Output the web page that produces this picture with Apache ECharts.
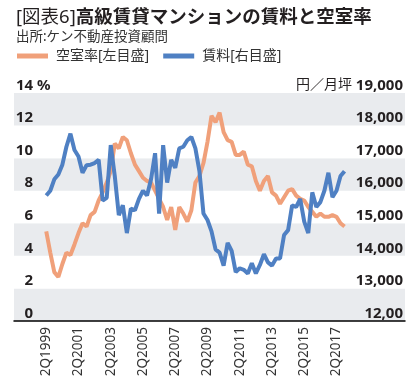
<!DOCTYPE html>
<html><head><meta charset="utf-8">
<script src="https://cdn.jsdelivr.net/npm/echarts@6/dist/echarts.min.js"></script>
<style>html,body{margin:0;padding:0;background:#fff}#c{width:417px;height:383px}</style>
</head><body><div id="c"></div>
<script>
// quarter index 0 = 2Q1999
const xTickLabels = ['2Q1999','2Q2001','2Q2003','2Q2005','2Q2007','2Q2009','2Q2011','2Q2013','2Q2015','2Q2017'];
const leftTickLabels = ['0','2','4','6','8','10','12','14'];
const rightTickLabels = ['12,00','13,000','14,000','15,000','16,000','17,000','18,000','19,000'];
const vacancy = [5.5,4.2,3.0,2.7,3.5,4.2,4.05,4.7,5.4,6.0,5.8,6.5,6.7,7.4,7.9,8.5,9.2,10.9,10.6,11.3,11.1,10.3,9.6,9.2,8.8,8.6,8.5,8.0,7.5,7.0,6.2,7.0,5.6,7.0,6.6,6.1,6.8,8.5,8.9,9.7,11.0,12.6,12.2,12.8,11.6,11.1,11.0,10.2,10.2,10.4,9.6,9.5,8.6,8.0,8.6,8.9,7.9,7.7,7.2,7.6,8.0,8.1,7.7,7.5,7.4,7.0,6.7,6.4,6.6,6.4,6.4,6.5,6.4,6.0,5.8];
const rent = [15850,16000,16350,16500,16800,17350,17750,17250,17050,16550,16780,16800,16850,16950,15700,15780,17400,16450,15250,15550,14700,15450,15400,15750,16000,15850,16350,17150,15300,17400,16250,16950,16700,17300,17350,17550,17650,17300,16600,15300,15100,14750,14200,14100,13700,14400,14150,13500,13620,13570,13460,13770,13460,13720,14050,13800,13700,13920,13920,14640,14790,15550,15500,15750,15050,14700,15950,15500,15650,16000,16550,15800,16000,16450,16600];
const seriesNames = ['空室率[左目盛]','賃料[右目盛]'];
const titleMain = '高級賃貸マンションの賃料と空室率';
const titleTag = '[図表6]';
const sourceText = '出所:ケン不動産投資顧問';
const rightUnit = '円／月坪';

const ORANGE = '#F0A07A', BLUE = '#4F80C3';
const FONT = '"Noto Sans", "Noto Sans CJK JP", sans-serif';
const chart = echarts.init(document.getElementById('c'), null, {renderer:'canvas'});
chart.setOption({
  animation: false,
  backgroundColor: '#fff',
  textStyle: {fontFamily: FONT},
  title: {
    left: 11, top: 3, itemGap: 4,
    text: '{a|' + titleTag + '}{b|' + titleMain + '}',
    textStyle: {rich: {
      a: {fontSize: 18.5, fontWeight: 'normal', color: '#231f20', fontFamily: FONT},
      b: {fontSize: 18.5, fontWeight: 'bold', color: '#231f20', fontFamily: FONT}
    }},
    subtext: sourceText,
    subtextStyle: {fontSize: 13.5, color: '#333', fontFamily: FONT}
  },
  legend: {
    left: 12, top: 44, itemWidth: 31, itemHeight: 5, itemGap: 14, icon: 'rect',
    textStyle: {fontSize: 14, color: '#333', fontFamily: FONT, padding: [0,0,0,3]},
    data: seriesNames
  },
  grid: {left: 14, right: 12, top: 93, bottom: 62},
  xAxis: {
    type: 'value', min: -8, max: 89, interval: 8,
    axisLine: {show: true, onZero: false, lineStyle: {color: '#000', width: 1.5}},
    axisTick: {show: false}, splitLine: {show: false},
    axisLabel: {
      rotate: 90, margin: 6, fontSize: 13.5, color: '#333', fontFamily: FONT,
      showMaxLabel: true, showMinLabel: true,
      formatter: v => (v >= 0 && v % 8 === 0 && xTickLabels[v/8]) ? xTickLabels[v/8] : ''
    }
  },
  yAxis: [{
    type: 'value', min: 0, max: 14, interval: 2, position: 'left',
    axisLine: {show: false}, axisTick: {show: false}, splitLine: {show: false},
    splitArea: {show: true, areaStyle: {color: ['#E9EBEE', '#FFFFFF']}},
    axisLabel: {
      inside: true, margin: 2, align: 'left', verticalAlign: 'bottom', color: '#231f20',
      fontSize: 15, fontWeight: 'bold', fontFamily: FONT,
      formatter: (v, idx) => {
        const lab = leftTickLabels[Math.round(v/2)];
        return '{n|' + lab + '}' + (v === 14 ? '{p| %}' : '');
      },
      rich: {
        n: {width: 17, align: 'right', fontSize: 15, fontWeight: 'bold', fontFamily: FONT, color: '#231f20'},
        p: {fontSize: 15, fontWeight: 'bold', fontFamily: FONT, color: '#231f20'}
      }
    }
  }, {
    type: 'value', min: 12000, max: 19000, interval: 1000, position: 'right',
    axisLine: {show: false}, axisTick: {show: false}, splitLine: {show: false},
    axisLabel: {
      inside: true, margin: 2, align: 'right', verticalAlign: 'bottom', color: '#231f20',
      fontSize: 15, fontWeight: 'bold', fontFamily: FONT,
      formatter: v => {
        const lab = rightTickLabels[Math.round((v-12000)/1000)];
        return v === 19000 ? '{u|' + rightUnit + '} ' + lab : lab;
      },
      rich: {u: {fontSize: 14, fontWeight: 'normal', fontFamily: FONT, color: '#231f20'}}
    }
  }],
  series: [{
    name: seriesNames[0], type: 'line', yAxisIndex: 0, symbol: 'none',
    lineStyle: {color: ORANGE, width: 4}, itemStyle: {color: ORANGE},
    data: vacancy.map((v, i) => [i, v])
  }, {
    name: seriesNames[1], type: 'line', yAxisIndex: 1, symbol: 'none',
    lineStyle: {color: BLUE, width: 4}, itemStyle: {color: BLUE},
    data: rent.map((v, i) => [i, v])
  }]
});
</script></body></html>
